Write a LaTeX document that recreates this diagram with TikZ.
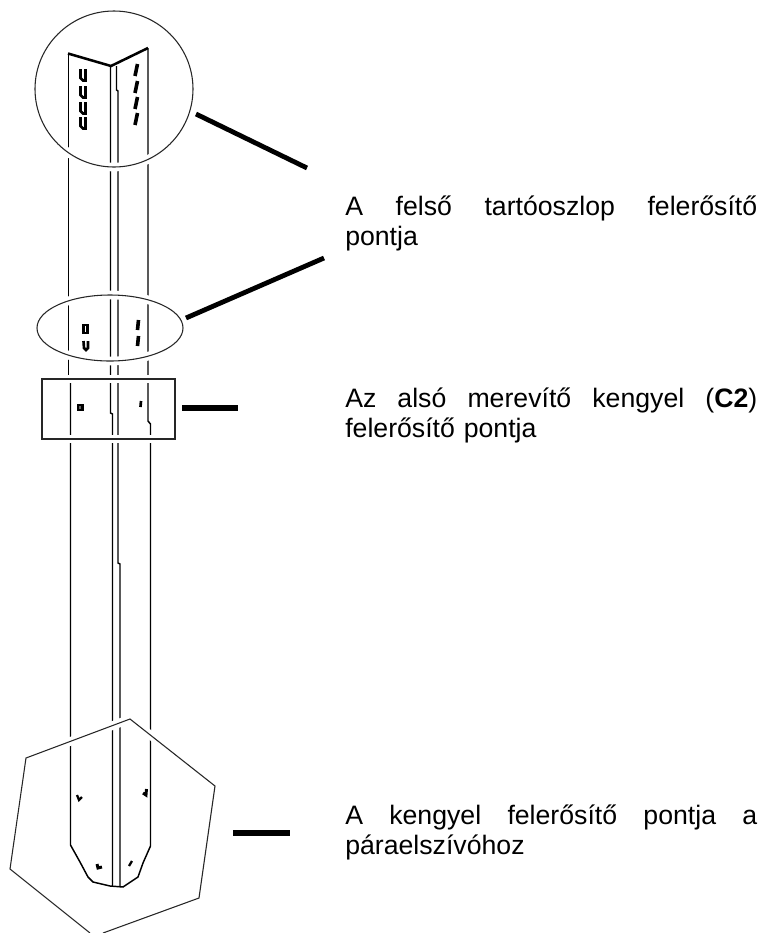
\documentclass[tikz,border=0pt]{standalone}
\usepackage{fontspec}
\setmainfont{Liberation Sans}
\newcommand{\fullline}[1]{\makebox[309pt][s]{#1}}
\begin{document}
\begin{tikzpicture}[x=0.75pt,y=-0.75pt,line join=miter,
  body/.style={draw=black,line width=1.1pt},
  halo/.style={draw=white,line width=6.5pt},
  outline/.style={draw=black!85,line width=0.8pt},
  bar/.style={draw=black,line width=4.2pt},
  hole/.style={draw=black,line width=1.7pt},
  caption/.style={anchor=base west,inner sep=0pt,text width=309pt,align=left,font=\fontsize{20pt}{23pt}\selectfont}]
\useasboundingbox (0,0) rectangle (761,933);
% post
\draw[body] (68.5,375) -- (68.5,53);
\draw[body,line width=1.9pt] (68,53.5) -- (111,66) -- (148,48);
\draw[body] (148,48) -- (148,421) -- (150.5,424) -- (150.5,846) -- (143,863) -- (138,877) -- (123,887) -- (110,886) -- (93,882) -- (88,877) -- (80,862) -- (70.5,845) -- (70.5,383);
\draw[body] (110.5,66) -- (110.5,413) -- (112.5,414) -- (112.5,886);
\draw[body] (116.5,66) -- (116.5,90) -- (118,91) -- (118,563) -- (120,564) -- (120,887);
% holes
\foreach \y in {75,92,108,123}
  \draw[hole,line width=2pt] (80.5,\y-6) -- (80.5,\y+3) -- (83,\y+5.5) -- (85.5,\y+5.5) -- (85.5,\y+3) -- (85.5,\y-6);
\foreach \y in {70,87,103,119}
  \draw[hole,line width=2.7pt] (137.5,\y-6) -- (135,\y+6);
\draw[hole,line width=2pt] (83.5,325) rectangle (87.5,333);
\draw[hole,line width=2pt] (83.5,341) -- (84,348) -- (86,350) -- (88,348) -- (88,341);
\foreach \y in {325,341}
  \draw[hole,line width=2.7pt] (138.5,\y-5) -- (137.5,\y+5);
\draw[hole,fill=black!60] (78,405) rectangle (82.5,410);
\draw[hole,line width=2pt] (141,401) -- (140.5,407);
\draw[hole] (77,795) -- (79,800) -- (82,797);
\draw[hole,line width=2.2pt] (146.5,789) -- (146,795) -- (143,793);
\draw[hole,line width=2.2pt] (97,864) -- (98,868) -- (102,867);
\draw[hole] (132,861) -- (129,866);
% callout shapes with white halo
\draw[halo] (114,89) circle [x radius=79,y radius=78];
\draw[outline] (114,89) circle [x radius=79,y radius=78];
\draw[halo] (110,328) circle [x radius=73,y radius=33];
\draw[outline] (110,328) circle [x radius=73,y radius=33];
\draw[halo] (42,379) rectangle (175,439);
\draw[outline] (42,379) rectangle (175,439);
\draw[halo] (26,758) -- (130,719) -- (215,786);
\draw[outline] (103,933) -- (199,898) -- (215,786) -- (130,719) -- (26,758) -- (10,869) -- (90,933);
% pointer bars
\coordinate (p1a) at (196,114); \coordinate (p1b) at (307,168);
\coordinate (p2a) at (186,318); \coordinate (p2b) at (324,258);
\coordinate (p3a) at (182,408); \coordinate (p3b) at (238,408);
\coordinate (p4a) at (233,833); \coordinate (p4b) at (290,833);
\draw[bar,line width=3.6pt] (p1a) -- (p1b);
\draw[bar,line width=3.6pt] (p2a) -- (p2b);
\draw[bar] (p3a) -- (p3b);
\draw[bar] (p4a) -- (p4b);
% captions
\node[caption] (t1) at (345,215) {\fullline{A \hfill felső \hfill tartóoszlop \hfill felerősítő}\\pontja};
\node[caption] (t2) at (345,407) {\fullline{Az \hfill alsó \hfill merevítő \hfill kengyel \hfill (\textbf{C2})}\\felerősítő pontja};
\node[caption] (t3) at (345,824) {\fullline{A \hfill kengyel \hfill felerősítő \hfill pontja \hfill a}\\páraelszívóhoz};
\end{tikzpicture}
\end{document}
